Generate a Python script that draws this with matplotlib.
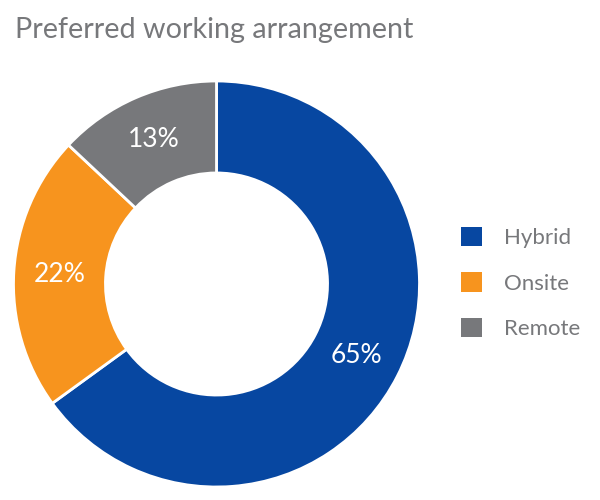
import matplotlib
matplotlib.use("Agg")
import matplotlib.pyplot as plt
from matplotlib.patches import Patch

plt.rcParams['font.family'] = ['Lato', 'DejaVu Sans']

title = "Preferred working arrangement"
categories = ["Hybrid", "Onsite", "Remote"]
values = [65, 22, 13]
colors = ["#0747a1", "#f7941e", "#77787b"]
text_gray = "#77787b"

fig = plt.figure(figsize=(6, 5), dpi=100)
fig.patch.set_facecolor("white")

# donut axes: center (216.5, 284) px, radius 203 px
R = 203
cx, cy = 216.5, 284
ax = fig.add_axes([(cx - R) / 600, (500 - cy - R) / 500, 2 * R / 600, 2 * R / 500])
wedges, texts, autotexts = ax.pie(
    values, colors=colors, startangle=90, counterclock=False, radius=1.0,
    autopct=lambda p: f"{p:.0f}%", pctdistance=0.773,
    wedgeprops=dict(width=0.453, edgecolor="white", linewidth=2),
    textprops=dict(color="white", fontsize=19, fontweight="normal"),
)
ax.set_xlim(-1, 1)
ax.set_ylim(-1, 1)
ax.set_aspect("equal")
ax.axis("off")

fig.text(15 / 600, 1 - 38.3 / 500, title, fontsize=20.7, color=text_gray,
         fontweight="normal", ha="left", va="baseline")

handles = [Patch(facecolor=c, edgecolor="none") for c in colors]
leg = fig.legend(handles, categories, loc="center left",
                 bbox_to_anchor=(460.7 / 600, 1 - 283 / 500),
                 frameon=False, handlelength=0.95, handleheight=0.95,
                 handletextpad=1.0, labelspacing=1.1, borderpad=0, borderaxespad=0,
                 prop=dict(size=16, weight="normal"))
for t in leg.get_texts():
    t.set_color(text_gray)

fig.savefig("out.png", dpi=100, facecolor="white")
